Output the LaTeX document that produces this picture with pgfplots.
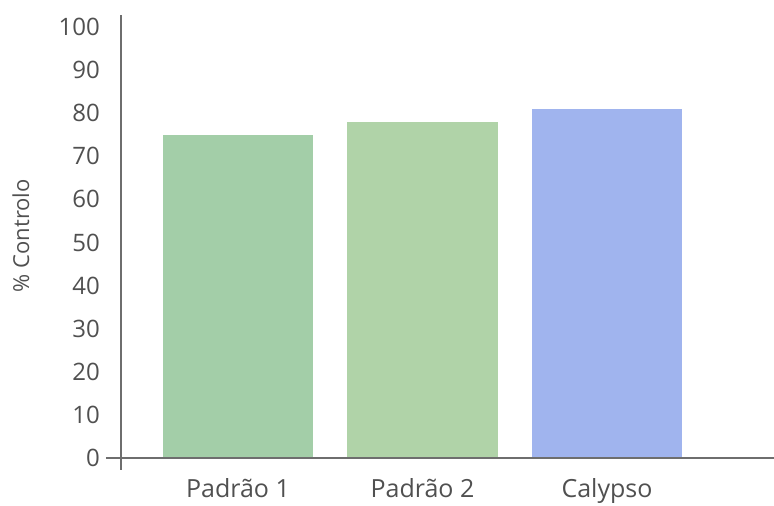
\documentclass[border=0pt]{standalone}
\usepackage{fontspec}
\setmainfont{Open Sans}
\usepackage{pgfplots}
\pgfplotsset{compat=1.18}
\definecolor{gA}{HTML}{A3CEA8}
\definecolor{gB}{HTML}{B0D3A8}
\definecolor{bC}{HTML}{A0B4EE}
\definecolor{txt}{HTML}{505050}
\definecolor{axl}{HTML}{6E6E6E}
\begin{document}
\begin{tikzpicture}
\useasboundingbox (0,0) rectangle (774pt,506pt);
\begin{axis}[
  at={(121pt,36pt)}, anchor=south west,
  scale only axis, width=653pt, height=455pt,
  xmin=-0.634, xmax=2.905, ymin=-2.8, ymax=102.8,
  axis line style={draw=none},
  major tick length=0pt,
  xtick={0,1,2}, xticklabels={Padrão 1, Padrão 2, Calypso},
  ytick={0,10,...,100},
  /pgf/number format/assume math mode=true,
  tick label style={text=txt},
  yticklabel style={anchor=east, inner sep=0pt, xshift=-21pt, font=\fontsize{24}{28}\selectfont},
  xticklabel style={anchor=north, inner sep=0pt, yshift=-8pt, font=\fontsize{25}{29}\selectfont},
  ylabel={\% Controlo},
  every axis y label/.style={at={([xshift=-100pt]rel axis cs:0,0.515)}, rotate=90, anchor=center, font=\fontsize{22}{26}\selectfont, text=txt},
  clip=false,
]
\addplot[ybar, bar width=0.813, draw=none, fill=gA] coordinates {(0,75)};
\addplot[ybar, bar width=0.813, draw=none, fill=gB] coordinates {(1,78)};
\addplot[ybar, bar width=0.813, draw=none, fill=bC] coordinates {(2,81)};
\draw[axl, line width=1.4pt] (rel axis cs:0,0) -- (rel axis cs:0,1);
\draw[axl, line width=1.4pt] ([xshift=-15pt]axis cs:-0.634,0) -- (axis cs:2.905,0);
\end{axis}
\end{tikzpicture}
\end{document}
